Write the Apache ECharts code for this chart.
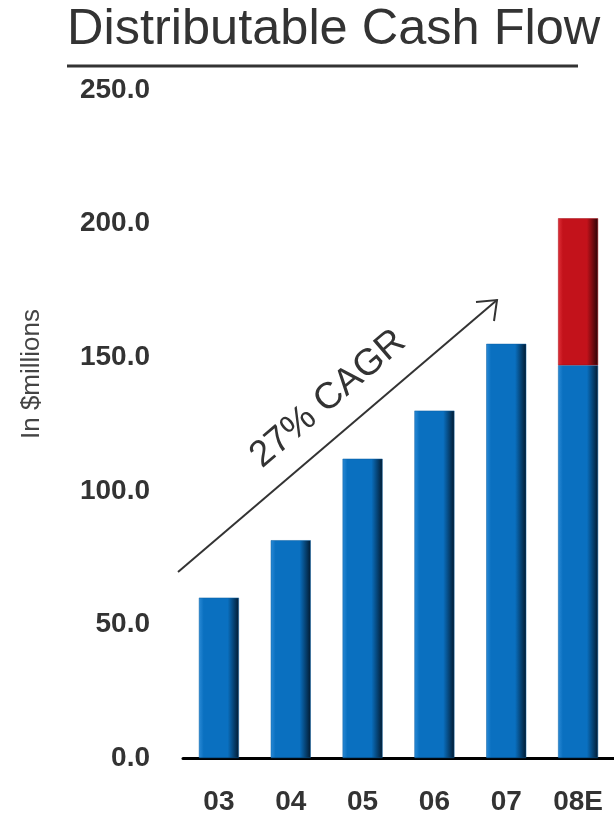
<!DOCTYPE html>
<html>
<head>
<meta charset="utf-8">
<script src="https://cdn.jsdelivr.net/npm/echarts@6/dist/echarts.min.js"></script>
<style>
  html, body { margin: 0; padding: 0; background: #fff; }
  #chart { width: 614px; height: 817px; }
</style>
</head>
<body>
<div id="chart"></div>
<script>
// values, $ millions
var years = ['03', '04', '05', '06', '07', '08E'];
var baseDcf = [60, 81.5, 112, 130, 155, 147];
var extraDcf = [null, null, null, null, null, 55];
var yTicks = [0, 50, 100, 150, 200, 250];

var font = 'Liberation Sans, Arial, sans-serif';

function barFill(c1, c2, c3) {
  return new echarts.graphic.LinearGradient(0, 0, 1, 0, [
    { offset: 0, color: c1 },
    { offset: 0.12, color: c2 },
    { offset: 0.72, color: c2 },
    { offset: 1, color: c3 }
  ]);
}

var chart = echarts.init(document.getElementById('chart'));
chart.setOption({
  animation: false,
  grid: { left: 183, right: -5, top: 90, bottom: 59 },
  xAxis: {
    type: 'category',
    data: years,
    axisLine: { lineStyle: { color: '#000', width: 3 } },
    axisTick: { show: false },
    axisLabel: {
      margin: 30, color: '#333', fontSize: 28, fontWeight: 'bold', fontFamily: font
    }
  },
  yAxis: {
    type: 'value',
    min: yTicks[0],
    max: yTicks[yTicks.length - 1],
    interval: 50,
    splitLine: { show: false },
    axisLine: { show: false },
    axisTick: { show: false },
    axisLabel: {
      margin: 33, color: '#333', fontSize: 28, fontWeight: 'bold', fontFamily: font,
      formatter: function (v) { return v.toFixed(1); }
    }
  },
  series: [
    {
      type: 'bar',
      stack: 'dcf',
      barWidth: 40,
      data: baseDcf,
      itemStyle: { color: barFill('#2a8ad6', '#0a70c0', '#021a30'), borderColor: '#0a5fa3', borderWidth: 0.5 }
    },
    {
      type: 'bar',
      stack: 'dcf',
      barWidth: 40,
      data: extraDcf,
      itemStyle: { color: barFill('#e03038', '#c3121b', '#2a0305'), borderColor: '#a50f16', borderWidth: 0.5 }
    }
  ],
  graphic: [
    {
      type: 'text', x: 67, y: 30,
      style: { text: 'Distributable Cash Flow', fill: '#333', fontSize: 50.5, fontFamily: font, verticalAlign: 'middle' }
    },
    {
      type: 'line', shape: { x1: 67, y1: 66, x2: 578, y2: 66 },
      style: { stroke: '#333', lineWidth: 3 }
    },
    {
      type: 'text', x: 32, y: 374, rotation: Math.PI / 2,
      style: { text: 'In $millions', fill: '#444', fontSize: 26, fontFamily: font, align: 'center', verticalAlign: 'middle' }
    },
    {
      type: 'line', shape: { x1: 178, y1: 572, x2: 497, y2: 300 },
      style: { stroke: '#333', lineWidth: 2 }
    },
    {
      type: 'polyline', shape: { points: [[476, 302], [497, 300], [494, 321]] },
      style: { stroke: '#333', lineWidth: 2, fill: null }
    },
    {
      type: 'text', x: 328, y: 399, rotation: 40.5 * Math.PI / 180,
      style: {
        text: '27% CAGR', fill: '#333', fontSize: 37, fontFamily: font,
        align: 'center', verticalAlign: 'middle'
      }
    }
  ]
});
</script>
</body>
</html>
